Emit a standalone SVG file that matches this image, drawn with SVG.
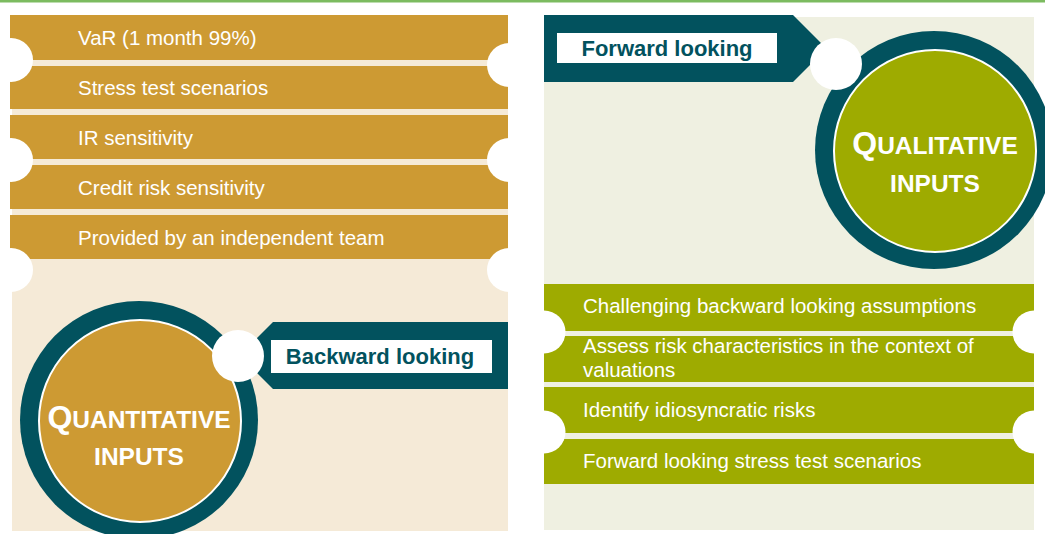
<svg xmlns="http://www.w3.org/2000/svg" width="1045" height="534" viewBox="0 0 1045 534">
<style>
.bar-text{font-family:"Liberation Sans",Arial,sans-serif;font-size:20.5px;fill:#ffffff}
.tab-text{font-family:"Liberation Sans",Arial,sans-serif;font-size:22px;font-weight:bold;fill:#02525e;text-anchor:middle}
.big{font-family:"Liberation Sans",Arial,sans-serif;font-weight:bold;fill:#ffffff;text-anchor:middle}
.gold{fill:#cd9a33}
.olive{fill:#9eab00}
.teal{fill:#02525e}
.notch{fill:#ffffff}
</style>
<rect x="0" y="0" width="1045" height="534" fill="#ffffff"/>
<rect x="0" y="0" width="1045" height="2.5" fill="#7cbb60"/>

<g id="quantitative-panel">
  <rect x="12" y="15" width="496" height="516" fill="#f5ead7"/>
  <g id="quant-items">
    <rect class="gold" x="10" y="15" width="498" height="45"/>
    <rect class="gold" x="10" y="66" width="498" height="43"/>
    <rect class="gold" x="10" y="115" width="498" height="44"/>
    <rect class="gold" x="10" y="165" width="498" height="44"/>
    <rect class="gold" x="10" y="215" width="498" height="44"/>
    <circle class="notch" cx="11" cy="60" r="22"/>
    <circle class="notch" cx="11" cy="160" r="22"/>
    <circle class="notch" cx="11" cy="270" r="22"/>
    <circle class="notch" cx="509" cy="65" r="22"/>
    <circle class="notch" cx="509" cy="160" r="22"/>
    <circle class="notch" cx="509" cy="270" r="22"/>
    <text class="bar-text" x="78" y="45">VaR (1 month 99%)</text>
    <text class="bar-text" x="78" y="95">Stress test scenarios</text>
    <text class="bar-text" x="78" y="145">IR sensitivity</text>
    <text class="bar-text" x="78" y="195">Credit risk sensitivity</text>
    <text class="bar-text" x="78" y="245">Provided by an independent team</text>
  </g>
</g>

<g id="quantitative-inputs">
  <circle class="teal" cx="139" cy="420" r="119"/>
  <circle cx="140" cy="421" r="101" fill="#cd9a33" stroke="#ffffff" stroke-width="2"/>
  <text class="big" x="139" y="428"><tspan font-size="32">Q</tspan><tspan font-size="24.5">UANTITATIVE</tspan></text>
  <text class="big" x="139" y="465" font-size="24.5">INPUTS</text>
</g>

<g id="backward-looking">
  <polygon class="teal" points="508,322 273,322 239.5,355.5 273,389 508,389"/>
  <circle class="notch" cx="238" cy="356" r="26"/>
  <rect x="271" y="340" width="221" height="33" fill="#ffffff"/>
  <text class="tab-text" x="380" y="364">Backward looking</text>
</g>

<g id="qualitative-panel">
  <rect x="544" y="17" width="490" height="513" fill="#eff0e1"/>
  <g id="qual-items">
    <rect class="olive" x="544" y="284" width="490" height="47"/>
    <rect class="olive" x="544" y="336" width="490" height="46"/>
    <rect class="olive" x="544" y="387" width="490" height="46"/>
    <rect class="olive" x="544" y="439" width="490" height="45"/>
    <circle class="notch" cx="544" cy="332" r="21.5"/>
    <circle class="notch" cx="544" cy="432" r="21.5"/>
    <circle class="notch" cx="1034" cy="332" r="21.5"/>
    <circle class="notch" cx="1034" cy="432" r="21.5"/>
    <text class="bar-text" x="583" y="313">Challenging backward looking assumptions</text>
    <text class="bar-text" x="583" y="353">Assess risk characteristics in the context of</text>
    <text class="bar-text" x="583" y="377">valuations</text>
    <text class="bar-text" x="583" y="417">Identify idiosyncratic risks</text>
    <text class="bar-text" x="583" y="468">Forward looking stress test scenarios</text>
  </g>
</g>

<g id="qualitative-inputs">
  <circle class="teal" cx="934" cy="150" r="119"/>
  <circle cx="935" cy="151" r="101" fill="#9eab00" stroke="#ffffff" stroke-width="2"/>
  <text class="big" x="935" y="154"><tspan font-size="32">Q</tspan><tspan font-size="24.5">UALITATIVE</tspan></text>
  <text class="big" x="935" y="192" font-size="24.5">INPUTS</text>
</g>

<g id="forward-looking">
  <polygon class="teal" points="544,15 793,15 826.5,48.5 793,82 544,82"/>
  <circle class="notch" cx="836" cy="64" r="26"/>
  <rect x="557" y="33" width="220" height="30" fill="#ffffff"/>
  <text class="tab-text" x="667" y="56">Forward looking</text>
</g>
</svg>
